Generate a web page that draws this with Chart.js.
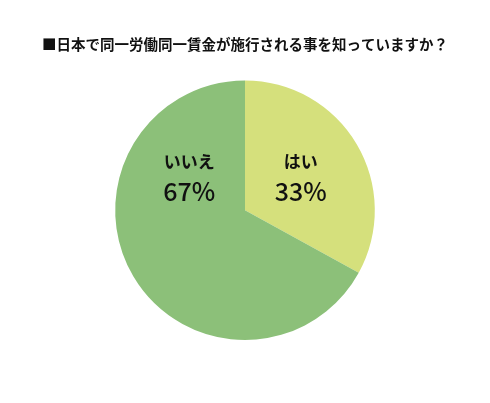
<!DOCTYPE html>
<html><head><meta charset="utf-8">
<script src="https://cdn.jsdelivr.net/npm/chart.js@4"></script>
<style>body{margin:0;background:#fff}#wrap{width:490px;height:403px}</style>
</head><body><div id="wrap"><canvas id="c"></canvas></div>
<script>
const categories = ['はい', 'いいえ'];
const values = [33, 67];
const colors = ['#d5e07c', '#8cc079'];

// both labels sit at the same height, mirrored about the pie centre
const sliceLabels = {
    id: 'sliceLabels',
    afterDatasetsDraw(chart) {
        const ctx = chart.ctx;
        const arcs = chart.getDatasetMeta(0).data;
        const p0 = arcs[0].tooltipPosition();
        const cx = arcs[0].x;
        arcs.forEach(function (arc, i) {
            const x = i === 0 ? p0.x : 2 * cx - p0.x;
            const y = p0.y;
            ctx.save();
            ctx.fillStyle = '#111';
            ctx.textAlign = 'center';
            ctx.textBaseline = 'middle';
            ctx.font = 'bold 17px "Noto Sans CJK JP"';
            ctx.fillText(categories[i], x, y - 16);
            ctx.font = '500 25px "Noto Sans CJK JP"';
            ctx.fillText(values[i] + '%', x, y + 14);
            ctx.restore();
        });
    }
};

new Chart(document.getElementById('c'), {
    type: 'pie',
    data: {
        labels: categories,
        datasets: [{ data: values, backgroundColor: colors, borderWidth: 0 }]
    },
    options: {
        responsive: true,
        maintainAspectRatio: false,
        animation: false,
        layout: { padding: { bottom: 63 } },
        plugins: {
            legend: { display: false },
            tooltip: { enabled: false },
            title: {
                display: true,
                text: '■日本で同一労働同一賃金が施行される事を知っていますか？',
                color: '#111',
                font: { family: '"Noto Sans CJK JP"', size: 14.5, weight: 'bold' },
                padding: { top: 36, bottom: 27 }
            }
        }
    },
    plugins: [sliceLabels]
});
</script></body></html>
